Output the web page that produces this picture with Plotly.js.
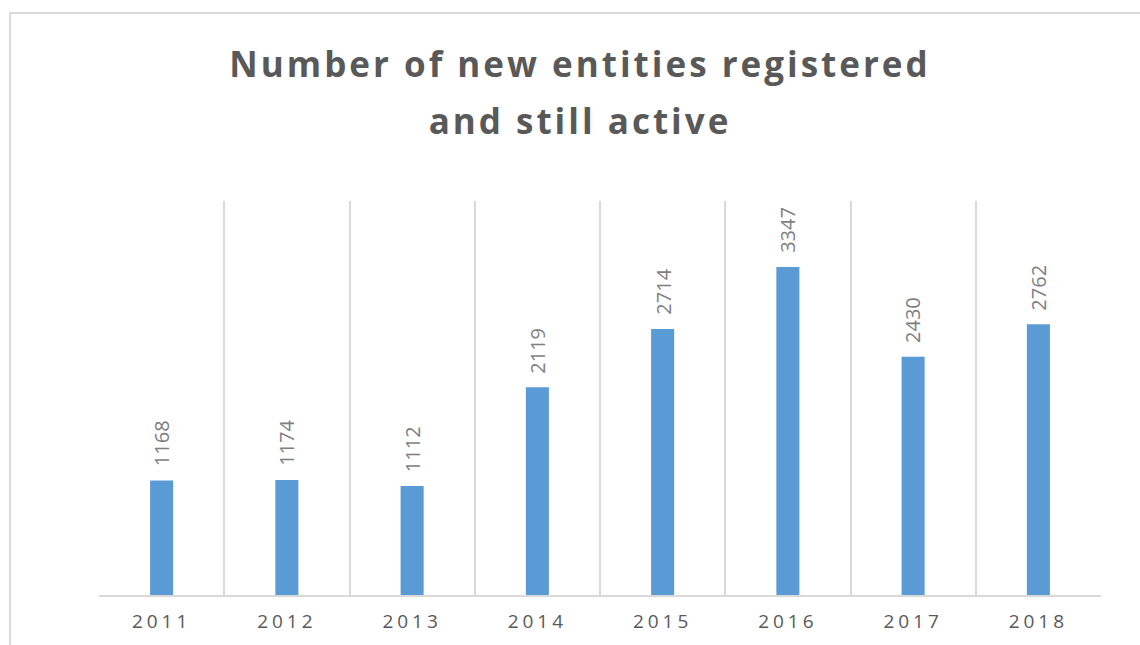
<!DOCTYPE html>
<html>
<head>
<meta charset="utf-8">
<script src="https://cdn.plot.ly/plotly-3.0.1.min.js"></script>
<style>
  html, body { margin: 0; padding: 0; background: #ffffff; }
  #chart { width: 1140px; height: 645px; }
  .gtitle { letter-spacing: 3px; }
  .xtick text { letter-spacing: 4px; }
</style>
</head>
<body>
<div id="chart"></div>
<script>
const years = ["2011", "2012", "2013", "2014", "2015", "2016", "2017", "2018"];
const entities = [1168, 1174, 1112, 2119, 2714, 3347, 2430, 2762];
const titleText = "Number of new entities registered<br>and still active";

const barColor = "#5B9BD5";
const gridColor = "#d9d9d9";

const trace = {
  type: "bar",
  x: years,
  y: entities,
  marker: { color: barColor },
  hoverinfo: "x+y"
};

const annotations = years.map((yr, i) => ({
  x: i,
  y: entities[i],
  xref: "x",
  yref: "y",
  text: String(entities[i]),
  showarrow: false,
  textangle: -90,
  xanchor: "center",
  yanchor: "bottom",
  yshift: 12,
  font: { family: "Open Sans, sans-serif", size: 20, color: "#7f7f7f" }
}));

const layout = {
  width: 1140,
  height: 645,
  margin: { l: 99, r: 39, t: 201, b: 50, pad: 0 },
  paper_bgcolor: "#ffffff",
  plot_bgcolor: "#ffffff",
  showlegend: false,
  bargap: 0.816,
  title: {
    text: titleText,
    font: { family: "Open Sans, sans-serif", size: 35, color: "#595959", weight: 700 },
    x: 580 / 1140,
    xref: "container",
    xanchor: "center",
    y: 1 - 77 / 645,
    yref: "container",
    yanchor: "top"
  },
  xaxis: {
    type: "category",
    range: [-0.5, 7.5],
    tickson: "boundaries",
    ticks: "",
    ticklabelstandoff: 8,
    showgrid: true,
    gridcolor: gridColor,
    gridwidth: 2,
    showline: true,
    linecolor: gridColor,
    linewidth: 2,
    tickfont: { family: "Open Sans, sans-serif", size: 19, color: "#595959" },
    fixedrange: true
  },
  yaxis: {
    range: [0, 4020],
    showgrid: false,
    zeroline: false,
    showticklabels: false,
    showline: false,
    ticks: "",
    fixedrange: true
  },
  annotations: annotations,
  shapes: [
    {
      type: "path",
      xref: "paper",
      yref: "paper",
      path: "M " + ((10 - 99) / 1002) + "," + ((595 - 700) / 394) +
            " L " + ((10 - 99) / 1002) + "," + ((595 - 13) / 394) +
            " L " + ((1200 - 99) / 1002) + "," + ((595 - 13) / 394),
      line: { color: gridColor, width: 2 }
    }
  ]
};

Plotly.newPlot("chart", [trace], layout, { displayModeBar: false, staticPlot: true }).then(() => {
  const lines = document.querySelectorAll(".gtitle tspan.line");
  if (lines.length > 1) {
    lines[1].setAttribute("dy", "1.63em");
  }
});
</script>
</body>
</html>
